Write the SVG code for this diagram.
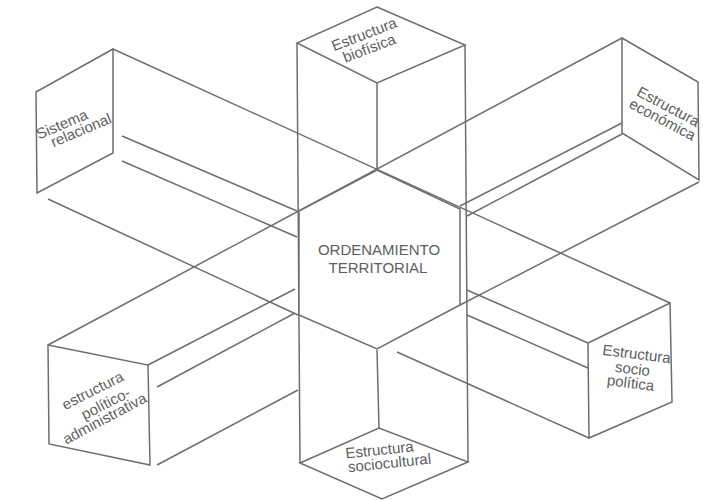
<svg xmlns="http://www.w3.org/2000/svg" width="703" height="500" viewBox="0 0 703 500">
<style>
.ln{stroke:#6e6e6e;stroke-width:1.5;fill:none;stroke-linejoin:miter}
.face{stroke:#6e6e6e;stroke-width:1.5;fill:#fff}
.t{font-family:"Liberation Sans",Arial,sans-serif;font-size:15px;fill:#5e5e5e;text-anchor:middle}
</style>
<rect width="703" height="500" fill="#fff"/>
<g id="connectors" class="ln">
<!-- vertical prism long edges -->
<line x1="297" y1="43" x2="300" y2="463"/>
<line x1="465" y1="45" x2="468" y2="462"/>
<!-- NW-SE prism edges -->
<line x1="113" y1="49" x2="670" y2="303"/>
<line x1="122" y1="136" x2="297" y2="211"/>
<line x1="467" y1="290" x2="588" y2="343"/>
<line x1="122" y1="161" x2="297" y2="237"/>
<line x1="467" y1="315" x2="588" y2="368"/>
<line x1="48" y1="199" x2="298" y2="315"/>
<line x1="397" y1="352" x2="589" y2="438"/>
<!-- NE-SW prism edges -->
<line x1="622" y1="38" x2="48" y2="345"/>
<line x1="622" y1="123" x2="460" y2="206"/>
<line x1="295" y1="289" x2="148" y2="365"/>
<line x1="622" y1="134" x2="467" y2="216"/>
<line x1="295" y1="313" x2="157" y2="387"/>
<line x1="699" y1="182" x2="460" y2="305"/>
<line x1="298" y1="390" x2="157" y2="465"/>
</g>
<g id="ordenamiento">
<polygon class="face" points="377,170 460,209 460,305 377,349 299,315 299,211"/>
<text class="t" x="379" y="255">ORDENAMIENTO</text>
<text class="t" x="378" y="273">TERRITORIAL</text>
</g>
<g id="biofisica">
<polygon class="face" points="377,7 465,45 377,83 297,43"/>
<line class="ln" x1="377" y1="83" x2="377" y2="170"/>
<text class="t" x="366" y="39" transform="rotate(-21 366 39)">Estructura</text>
<text class="t" x="371" y="53" transform="rotate(-21 371 53)">biofísica</text>
</g>
<g id="sociocultural">
<polygon class="face" points="300,463 379,428 468,462 382,499"/>
<line class="ln" x1="377" y1="350" x2="379" y2="428"/>
<text class="t" x="380" y="455" transform="rotate(-6 380 455)">Estructura</text>
<text class="t" x="390" y="468" transform="rotate(-6 390 468)">sociocultural</text>
</g>
<g id="relacional">
<polygon class="face" points="113,49 36,92 37,193 113,153"/>
<text class="t" x="64" y="129" transform="rotate(-23 64 129)">Sistema</text>
<text class="t" x="83" y="135" transform="rotate(-23 83 135)">relacional</text>
</g>
<g id="economica">
<polygon class="face" points="622,38 698,82 699,180 622,133"/>
<text class="t" x="666" y="111" transform="rotate(28 666 111)">Estructura</text>
<text class="t" x="660" y="124" transform="rotate(28 660 124)">económica</text>
</g>
<g id="sociopolitica">
<polygon class="face" points="588,343 670,303 672,402 589,438"/>
<text class="t" x="636" y="359" transform="rotate(7 636 359)">Estructura</text>
<text class="t" x="632" y="374" transform="rotate(7 632 374)">socio</text>
<text class="t" x="630" y="388" transform="rotate(7 630 388)">política</text>
</g>
<g id="politico">
<polygon class="face" points="48,345 148,365 150,465 49,444"/>
<text class="t" x="95" y="395" transform="rotate(-27 95 395)">estructura</text>
<text class="t" x="108" y="408" transform="rotate(-27 108 408)">político-</text>
<text class="t" x="107" y="423" transform="rotate(-28 107 423)">administrativa</text>
</g>
</svg>
